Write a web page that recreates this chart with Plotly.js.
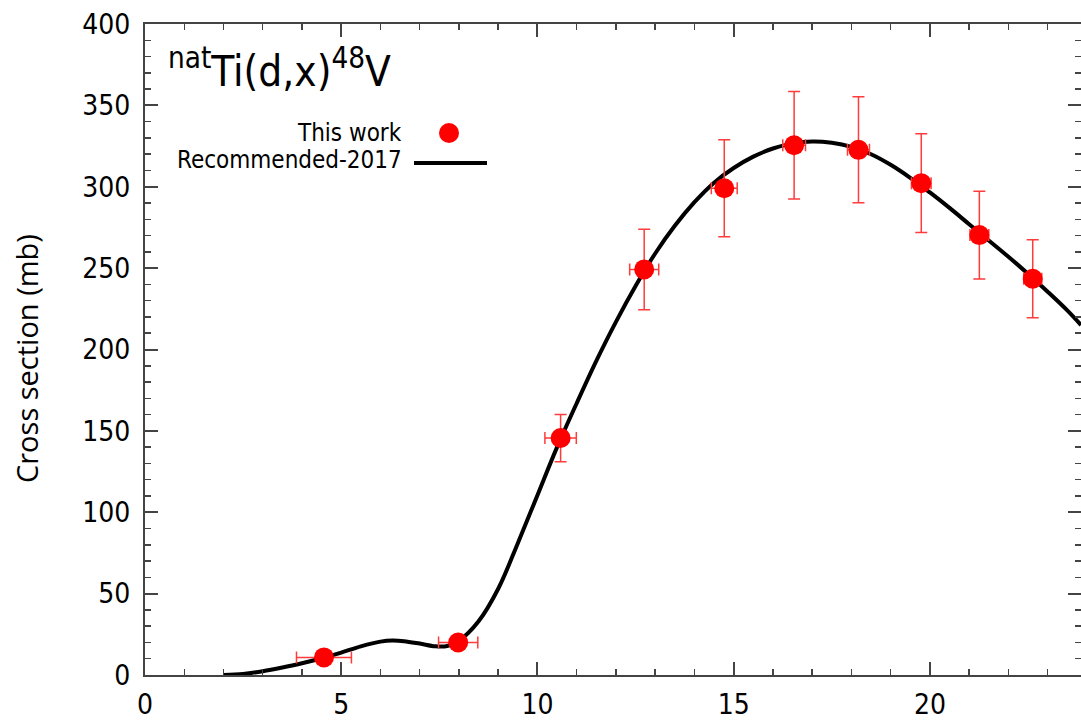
<!DOCTYPE html>
<html>
<head>
<meta charset="utf-8">
<script src="https://cdn.plot.ly/plotly-3.0.1.min.js"></script>
<style>html,body{margin:0;padding:0;background:#fff;overflow:hidden;}</style>
</head>
<body>
<div id="chart" style="width:1081px;height:725px;"></div>
<script>
// Experimental data: natTi(d,x)48V, this work
const energy = [4.56, 7.98, 10.59, 12.72, 14.76, 16.54, 18.18, 19.78, 21.26, 22.62];
const energyErr = [0.70, 0.50, 0.40, 0.37, 0.33, 0.29, 0.28, 0.25, 0.24, 0.23];
const xsec = [10.8, 20.0, 145.6, 249.2, 299.1, 325.5, 322.7, 302.2, 270.3, 243.5];
const xsecErr = [1.5, 2.5, 14.5, 24.7, 29.8, 33.0, 32.6, 30.3, 27.0, 24.0];

// Recommended-2017 curve
const recEnergy = [2.0, 2.5, 3.0, 3.5, 4.0, 4.5, 5.0, 5.5, 6.0, 6.3, 6.6, 7.0, 7.4, 7.7, 8.0, 8.5, 9.0, 9.5, 10.0, 10.5, 11.0, 11.5, 12.0, 12.5, 13.0, 13.5, 14.0, 14.5, 15.0, 15.5, 16.0, 16.5, 17.0, 17.5, 18.0, 18.5, 19.0, 19.5, 20.0, 20.5, 21.0, 21.5, 22.0, 22.5, 23.0, 23.5, 23.85];
const recXsec = [0, 0.6, 2.3, 4.6, 7.2, 10.3, 13.8, 17.6, 20.5, 21.2, 20.8, 19.3, 17.6, 17.8, 21.0, 33.0, 53.0, 81.0, 110.5, 140.0, 167.0, 193.0, 217.0, 239.0, 259.0, 276.0, 290.5, 302.5, 311.5, 318.5, 323.5, 326.5, 327.8, 327.0, 324.5, 320.0, 313.5, 305.5, 296.5, 287.0, 277.0, 267.0, 257.0, 246.5, 235.5, 224.0, 215.0];

const xTickVals = [0, 5, 10, 15, 20];
const yTickVals = [0, 50, 100, 150, 200, 250, 300, 350, 400];

const F = "'DejaVu Sans Condensed', 'DejaVu Sans', sans-serif";

const traces = [
  {
    x: recEnergy, y: recXsec, type: 'scatter', mode: 'lines',
    name: 'Recommended-2017',
    line: {color: '#000000', width: 4, shape: 'spline', smoothing: 1},
    showlegend: false
  },
  {
    x: energy, y: xsec, type: 'scatter', mode: 'markers',
    name: 'This work',
    marker: {color: '#ff0000', size: 20},
    error_y: {type: 'data', array: xsecErr, visible: true, color: '#ff3b3b', thickness: 1.5, width: 6},
    error_x: {type: 'data', array: energyErr, visible: true, color: '#ff3b3b', thickness: 1.5, width: 6},
    showlegend: false
  }
];

const axisCommon = {
  showgrid: false, zeroline: false,
  showline: true, linecolor: '#444', linewidth: 2, mirror: 'allticks',
  ticks: 'inside', ticklen: 13, tickwidth: 2, tickcolor: '#444',
  tickfont: {family: F, size: 28, color: '#000'}
};

const W = 936, H = 651;
const layout = {
  width: 1081, height: 725,
  margin: {l: 145, r: 0, t: 24, b: 50},
  paper_bgcolor: '#fff', plot_bgcolor: '#fff',
  xaxis: Object.assign({}, axisCommon, {
    range: [0, 23.85], tickvals: xTickVals, ticklabelstandoff: 3,
    minor: {dtick: 1, ticklen: 6, tickwidth: 1.5, tickcolor: '#444', ticks: 'inside'}
  }),
  yaxis: Object.assign({}, axisCommon, {
    range: [0, 400], tickvals: yTickVals, ticklabelstandoff: 7,
    minor: {dtick: 10, ticklen: 6, tickwidth: 1.5, tickcolor: '#444', ticks: 'inside'}
  }),
  annotations: [
    {xref: 'paper', yref: 'paper', x: (27-145)/W, y: (675-359)/H, xanchor: 'center', yanchor: 'middle',
     textangle: -90, text: 'Cross section (mb)', showarrow: false,
     font: {family: "'Open Sans', sans-serif", size: 29, color: '#000'}},
    {xref: 'paper', yref: 'paper', x: (166-145)/W, y: (675-68)/H, xanchor: 'left', yanchor: 'middle',
     text: '<sup>nat</sup>Ti(d,x)<sup>48</sup>V', showarrow: false, font: {family: F, size: 42, color: '#000'}},
    {xref: 'paper', yref: 'paper', x: (404-145)/W, y: (675-133)/H, xanchor: 'right', yanchor: 'middle',
     text: 'This work', showarrow: false, font: {family: F, size: 24, color: '#000'}},
    {xref: 'paper', yref: 'paper', x: (404-145)/W, y: (675-160)/H, xanchor: 'right', yanchor: 'middle',
     text: 'Recommended-2017', showarrow: false, font: {family: F, size: 24, color: '#000'}}
  ],
  shapes: [
    {type: 'circle', xref: 'paper', yref: 'paper', xsizemode: 'pixel', ysizemode: 'pixel',
     xanchor: (449-145)/W, yanchor: (675-133)/H, x0: -10, x1: 10, y0: -10, y1: 10,
     fillcolor: '#ff0000', line: {width: 0}},
    {type: 'line', xref: 'paper', yref: 'paper', x0: (414-145)/W, x1: (487-145)/W,
     y0: (675-163)/H, y1: (675-163)/H, line: {color: '#000', width: 4}}
  ],
  showlegend: false
};

Plotly.newPlot('chart', traces, layout, {displayModeBar: false, staticPlot: true});
</script>
</body>
</html>
